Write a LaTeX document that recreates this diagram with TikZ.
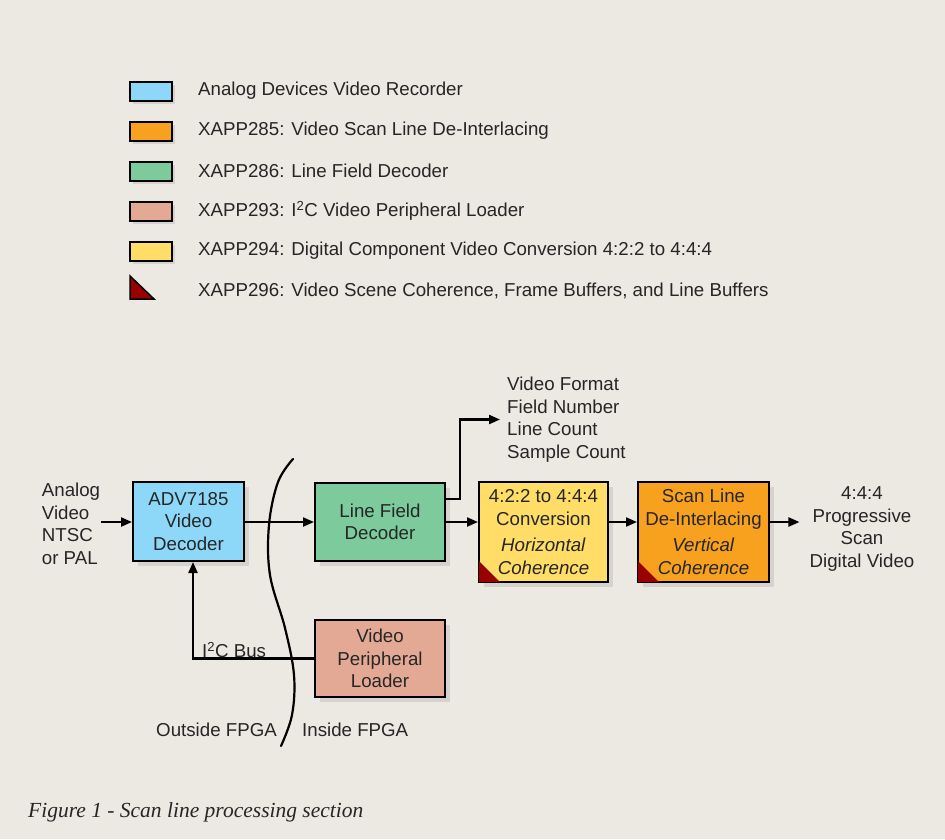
\documentclass[tikz,border=0pt]{standalone}
\usepackage{fontspec}
\setmainfont{Liberation Sans}
\newfontfamily\capfont{Liberation Serif}
\usetikzlibrary{arrows.meta, shadows}
\definecolor{paper}{RGB}{236,232,226}
\definecolor{adblue}{RGB}{141,216,248}
\definecolor{xorange}{RGB}{247,161,30}
\definecolor{xgreen}{RGB}{125,203,156}
\definecolor{xpink}{RGB}{228,169,149}
\definecolor{xyellow}{RGB}{255,221,102}
\definecolor{xred}{RGB}{153,0,0}
\tikzstyle{block}=[draw, line width=2pt, align=center, inner sep=0pt,
  drop shadow={opacity=.2, shadow xshift=5pt, shadow yshift=-5pt}]
\tikzstyle{key}=[draw, line width=2pt, minimum width=42pt, minimum height=19pt, inner sep=0pt,
  drop shadow={opacity=.2, shadow xshift=3pt, shadow yshift=-3pt}]
\tikzstyle{keytext}=[anchor=west, inner sep=0pt]
\tikzstyle{flow}=[line width=2.2pt, -{Triangle[length=11pt, width=9pt]}]
\tikzstyle{corner}=[fill=xred]
\newcommand{\keybox}{\node[key]}

\begin{document}
\begin{tikzpicture}[x=1pt, y=-1pt,
            every node/.style={font=\fontsize{18.7}{22.5}\selectfont, text=black!85}
        ]
            \fill[paper] (0,0) rectangle (945,839);
            \useasboundingbox (0,0) rectangle (945,839);

            \keybox[fill=adblue]  (k1) at (151,91) {};
            \keybox[fill=xorange] (k2) at (151,131) {};
            \keybox[fill=xgreen]  (k3) at (151,171) {};
            \keybox[fill=xpink]   (k4) at (151,211) {};
            \keybox[fill=xyellow] (k5) at (151,251) {};
            \draw[line width=1.5pt, fill=xred, line join=miter] (130,276) -- (130,299) -- (154,299) -- cycle;
            \node[keytext] (t1) at (198,91) {Analog Devices Video Recorder};
            \node[keytext] (t2) at (198,131) {XAPP285: Video Scan Line De-Interlacing};
            \node[keytext] (t3) at (198,171) {XAPP286: Line Field Decoder};
            \node[keytext] (t4) at (198,211) {XAPP293: I\textsuperscript{2}C Video Peripheral Loader};
            \node[keytext] (t5) at (198,251) {XAPP294: Digital Component Video Conversion 4:2:2 to 4:4:4};
            \node[keytext] (t6) at (198,291) {XAPP296: Video Scene Coherence, Frame Buffers, and Line Buffers};

            \node[block, fill=adblue, minimum width=111pt, minimum height=79pt] (adv) at (188.5,521.5)
                {ADV7185\\Video\\Decoder};
            \node[block, fill=xgreen, minimum width=130pt, minimum height=78pt] (lfd) at (380,522)
                {Line Field\\Decoder};
            \node[block, fill=xyellow, minimum width=129pt, minimum height=100pt] (conv) at (543.5,532)
                {4:2:2 to 4:4:4\\Conversion\\[4pt]\textit{Horizontal}\\\textit{Coherence}};
            \node[block, fill=xorange, minimum width=131pt, minimum height=100pt] (deint) at (703.5,532)
                {Scan Line\\De-Interlacing\\[4pt]\textit{Vertical}\\\textit{Coherence}};
            \node[block, fill=xpink, minimum width=130pt, minimum height=77pt] (vpl) at (380,658.5)
                {Video\\Peripheral\\Loader};
            \fill[corner] ([shift={(1,-1)}]conv.south west) -- ++(0,-21) -- ++(21,21) -- cycle;
            \fill[corner] ([shift={(1,-1)}]deint.south west) -- ++(0,-21) -- ++(21,21) -- cycle;

            \node[align=left, inner sep=0pt, inner xsep=1pt] (analog) at (71,524)
                {Analog\\Video\\NTSC\\or PAL};
            \node[align=left, anchor=west, inner ysep=0pt, inner xsep=7pt] (info) at (500,419.5)
                {Video Format\\Field Number\\Line Count\\Sample Count};
            \node[align=center, inner ysep=0pt, inner xsep=10pt] (out) at (862,529)
                {4:4:4\\Progressive\\Scan\\Digital Video};
            \node[keytext] (bus) at (202,650) {I\textsuperscript{2}C Bus};
            \node[anchor=east, inner sep=0pt] (outside) at (277,730) {Outside FPGA};
            \node[keytext] (inside) at (302,730) {Inside FPGA};
            \node[anchor=west, inner sep=0pt, font=\capfont\itshape\fontsize{21.5}{25}\selectfont] (caption)
                at (28,812) {Figure 1 - Scan line processing section};

            \draw[line width=2.2pt, line cap=round] plot[smooth, tension=.6] coordinates
                {(293,459) (278,482) (269,525) (270,575) (285,628) (294,675) (292,715) (281,746)};

        \path[flow]
                (analog.east |- lfd.east) edge (adv.west |- lfd.east)
                (adv.east |- lfd.east) edge (lfd.east -| lfd.west)
                (lfd.east) edge (lfd.east -| conv.west)
                (conv.east |- lfd.east) edge (deint.west |- lfd.east)
                (deint.east |- lfd.east) edge (out.west |- lfd.east)
            ;
        \draw[flow] ([yshift=23pt]lfd.east) -- ++(14,0) |- (info.west);
        \draw[flow] (vpl.west) -| ([xshift=4.5pt]adv.south);
        \end{tikzpicture}
\end{document}
